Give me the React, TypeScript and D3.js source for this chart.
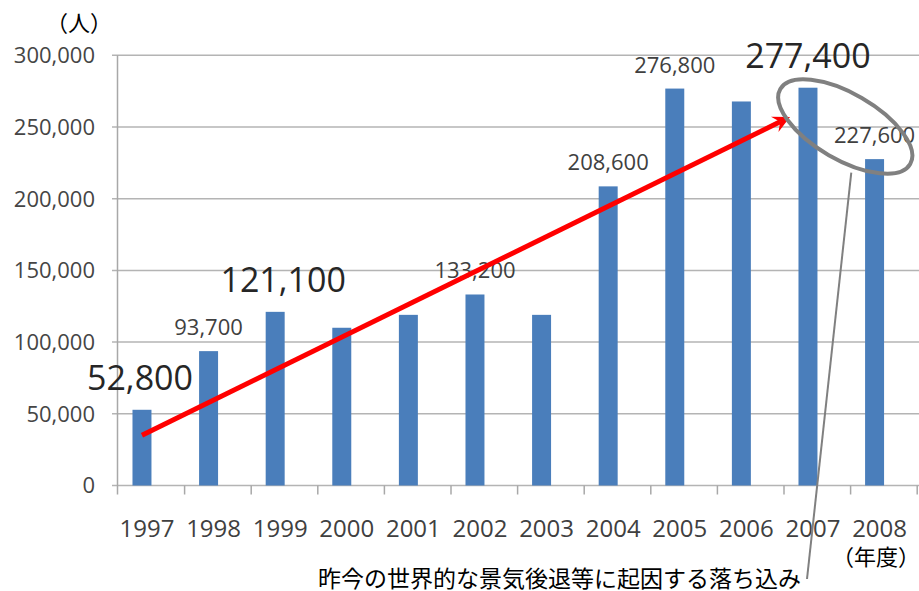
import React from "react";
import * as d3 from "d3";

const years = ["1997","1998","1999","2000","2001","2002","2003","2004","2005","2006","2007","2008"];
const visitors = [52800, 93700, 121100, 110000, 119000, 133200, 119000, 208600, 276800, 267800, 277400, 227600];
const yTicks = [0, 50000, 100000, 150000, 200000, 250000, 300000];
const bigLabels = ["1997", "1999", "2007"];
const smallLabels = ["1998", "2002", "2004", "2005", "2008"];
const trendArrow = { from: [0, 35000], to: [9.73, 257000] };
const dropEllipse = { center: [10.56, 250300], rx: 75, ry: 33, angle: 30 };
const unitLabel = "（人）";
const xUnitLabel = "（年度）";
const note = "昨今の世界的な景気後退等に起因する落ち込み";

const W = 919, H = 591;
const FONT = "'Open Sans', 'Noto Sans', sans-serif";
const CJK = "'Noto Sans CJK JP', sans-serif";

export default function App() {
  const x = d3.scaleBand<string>().domain(years).range([118, 917.2]).padding(0);
  const bw = x.bandwidth();
  const y = d3.scaleLinear().domain([0, 300000]).range([485.5, 55.3]);
  const barW = bw * 0.285;
  const barOff = bw * 0.36;
  const idx = d3.scaleLinear().domain([0, 1]).range([x(years[0])! + barOff, x(years[0])! + barOff + bw]);
  const fmt = d3.format(",");

  const ax0 = idx(trendArrow.from[0]), ay0 = y(trendArrow.from[1]);
  const ax1 = idx(trendArrow.to[0]), ay1 = y(trendArrow.to[1]);
  const ang = Math.atan2(ay1 - ay0, ax1 - ax0);
  const headL = 17, headW = 8.5, notch = 11;
  const ux = Math.cos(ang), uy = Math.sin(ang);
  const px = -uy, py = ux;
  const bx = ax1 - ux * headL, by = ay1 - uy * headL;
  const nx = ax1 - ux * notch, ny = ay1 - uy * notch;
  const head = [
    [ax1, ay1],
    [bx + px * headW, by + py * headW],
    [nx, ny],
    [bx - px * headW, by - py * headW],
  ].map(p => p.join(",")).join(" ");

  const ecx = idx(dropEllipse.center[0]), ecy = y(dropEllipse.center[1]);
  const calloutStart: [number, number] = [ecx + 6, ecy + 46];
  const calloutEnd: [number, number] = [807, 579];

  return (
    <svg width={W} height={H} style={{ position: "absolute", left: 0, top: 0, background: "#fff" }}>
      {yTicks.map(t => (
        <g key={t}>
          <line x1={112} x2={919} y1={y(t)} y2={y(t)} stroke="#b4b4b4" strokeWidth={1.5} />
          <text x={95} y={y(t)} dy="0.36em" textAnchor="end" fontFamily={FONT} fontSize={22} fill="#454545">{fmt(t)}</text>
        </g>
      ))}
      <line x1={117.5} x2={117.5} y1={y(300000)} y2={y(0) + 9} stroke="#a8a8a8" strokeWidth={1.5} />
      {years.map(yr => (
        <line key={"t" + yr} x1={x(yr)! + bw} x2={x(yr)! + bw} y1={y(0)} y2={y(0) + 9} stroke="#a8a8a8" strokeWidth={1.5} />
      ))}
      {years.map((yr, i) => (
        <rect key={yr} x={x(yr)! + barOff - barW / 2} y={y(visitors[i])} width={barW} height={y(0) - y(visitors[i])} fill="#4a7ebb" />
      ))}
      {years.map(yr => (
        <text key={"l" + yr} x={x(yr)! + barOff + 5} y={537} textAnchor="middle" fontFamily={FONT} fontSize={24} fill="#404040">{yr}</text>
      ))}
      {years.map((yr, i) => {
        const big = bigLabels.includes(yr);
        const small = smallLabels.includes(yr);
        if (!big && !small) return null;
        const cx = x(yr)! + barOff + (yr === "1997" ? -2 : yr === "1999" ? 8 : 0);
        const gap = big ? 20 : 16;
        return (
          <text key={"v" + yr} x={cx} y={y(visitors[i]) - gap} textAnchor="middle" fontFamily={FONT}
            fontSize={big ? 34 : 22} fill={big ? "#262626" : "#404040"}>{fmt(visitors[i])}</text>
        );
      })}
      <line x1={ax0} y1={ay0} x2={nx} y2={ny} stroke="#ff0000" strokeWidth={5} />
      <polygon points={head} fill="#ff0000" />
      <ellipse cx={ecx} cy={ecy} rx={dropEllipse.rx} ry={dropEllipse.ry}
        transform={`rotate(${dropEllipse.angle} ${ecx} ${ecy})`} fill="none" stroke="#808080" strokeWidth={4} />
      <line x1={calloutStart[0]} y1={calloutStart[1]} x2={calloutEnd[0]} y2={calloutEnd[1]} stroke="#808080" strokeWidth={2} />
      <text x={46} y={31} fontFamily={CJK} fontSize={22} fill="#000">{unitLabel}</text>
      <text x={832} y={565} fontFamily={CJK} fontSize={22} fill="#000">{xUnitLabel}</text>
      <text x={318} y={587} fontFamily={CJK} fontSize={23} fill="#000">{note}</text>
    </svg>
  );
}
